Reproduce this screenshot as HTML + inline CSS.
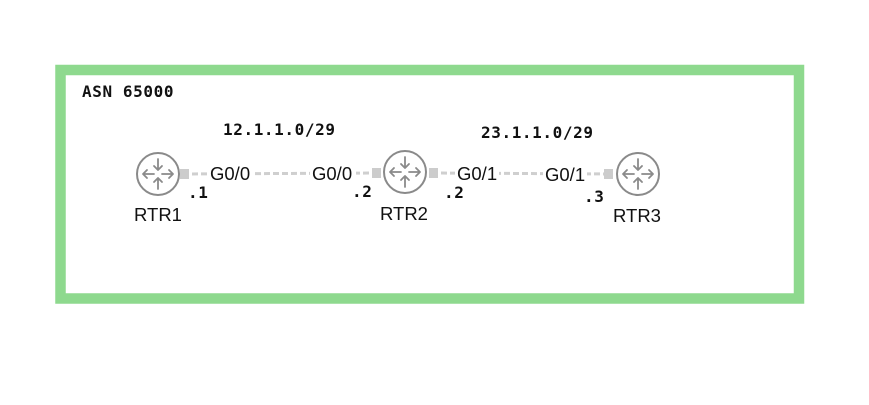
<!DOCTYPE html>
<html><head><meta charset="utf-8"><style>
html,body{margin:0;padding:0;background:#fff;}
svg{display:block;}
.m{font-family:"DejaVu Sans Mono","Liberation Mono",monospace;font-weight:bold;font-size:16px;letter-spacing:0.6px;fill:#111;}
.s{font-family:"Liberation Sans",Arial,sans-serif;font-size:18.5px;fill:#111;}
</style></head><body>
<svg width="869" height="405" viewBox="0 0 869 405">
<defs>
<g id="r">
<circle r="21" fill="#fff" stroke="#8a8a8a" stroke-width="2"/>
<g stroke="#8a8a8a" stroke-width="1.8" fill="none" stroke-linecap="round" stroke-linejoin="round">
<path d="M0,-15 V-4 M-4,-8 L0,-4 L4,-8"/>
<path d="M0,15 V4 M-4,8 L0,4 L4,8"/>
<path d="M-4,0 H-15 M-11,-4 L-15,0 L-11,4"/>
<path d="M4,0 H15 M11,-4 L15,0 L11,4"/>
</g>
</g>
</defs>
<rect x="60.5" y="70" width="738.5" height="228.5" fill="none" stroke="#8ed98e" stroke-width="10.5"/>
<text class="m" x="82" y="97">ASN 65000</text>
<text class="m" x="223" y="135">12.1.1.0/29</text>
<text class="m" x="481" y="138">23.1.1.0/29</text>
<g stroke="#cfcfcf" stroke-width="3" stroke-dasharray="6,3">
<line x1="183" y1="174" x2="380" y2="173"/>
<line x1="432" y1="173" x2="612" y2="174"/>
</g>
<g fill="#cccccc">
<rect x="180" y="169" width="9" height="10"/>
<rect x="372" y="168" width="9" height="10"/>
<rect x="429" y="168" width="9" height="10"/>
<rect x="604" y="169" width="9" height="10"/>
</g>
<rect x="208" y="163" width="46" height="20" fill="#fff"/>
<rect x="310" y="163" width="46" height="20" fill="#fff"/>
<rect x="455" y="163" width="44" height="20" fill="#fff"/>
<rect x="543" y="164" width="44" height="20" fill="#fff"/>
<text class="s" x="210" y="180">G0/0</text>
<text class="s" x="312" y="180">G0/0</text>
<text class="s" x="457" y="180">G0/1</text>
<text class="s" x="545" y="181">G0/1</text>
<text class="m" x="188" y="198">.1</text>
<text class="m" x="352" y="197">.2</text>
<text class="m" x="444" y="198">.2</text>
<text class="m" x="584" y="202">.3</text>
<use href="#r" x="158" y="174"/>
<use href="#r" x="405" y="172"/>
<use href="#r" x="638" y="174"/>
<text class="s" x="134" y="221">RTR1</text>
<text class="s" x="380" y="220">RTR2</text>
<text class="s" x="613" y="222">RTR3</text>
</svg>
</body></html>
